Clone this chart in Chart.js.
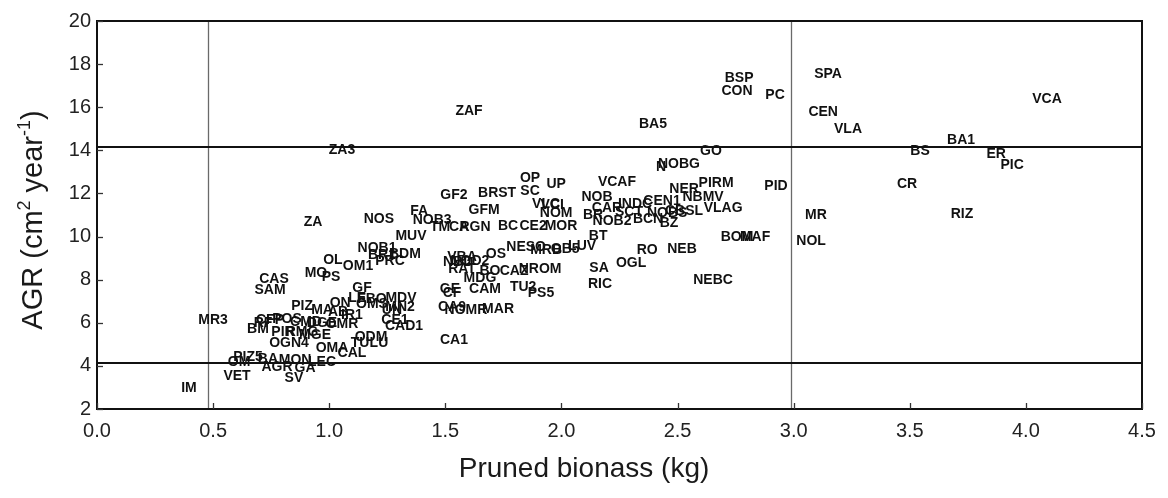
<!DOCTYPE html>
<html>
<head>
<meta charset="utf-8">
<script src="https://cdn.jsdelivr.net/npm/chart.js@4"></script>
<style>
html,body{margin:0;padding:0;background:#fff;}
canvas{display:block;}
</style>
</head>
<body>
<canvas id="c" width="1168" height="498"></canvas>
<script>
// ---- data ----
const names = ["SPA","BSP","CON","PC","VCA","CEN","ZAF","VLA","BA5","BA1",
"ZA3","GO","BS","ER","NOBG","N","PIC","PIRM","PID","CR",
"VCAF","OP","UP","SC","BRST","GF2","NER","NBMV","NOB","VLC",
"VCI","GFM","CAR","INDC","CEN1","SCT","NOM","BR","VLAG","NOBS",
"CBSL","BCN","BZ","NOB2","MR","RIZ","FA","ZA","NOS","NOB3",
"TM","CA","RGN","BC","CE2","MOR","BT","BOM","MAF","NOL",
"MUV","NESO","MRB","OB5","LUV","NOB1","BR1","BDM","PRC","OL",
"OM1","MO","PS","CAS","SAM","GF","OS","VBA","NOD2","NBD",
"RAT","BO","CAZ","NROM","MDG","CAM","TU2","PS5","GE","CF",
"CA9","NOMR","MAR","SA","RIC","OGL","RO","NEB","NEBC","MR3",
"IM","VET","SV","PIZ5","BA","OM","AGR","MON","GA","LEC",
"OMA","CAL","ODM","TU","LU","OGN4","BM","PIZ","MA","AB",
"IR1","ON","OMS","LE","FBO","MDV","MN2","UN","CE1","CAD1",
"CA1","CFP","POS","CMD","DGE","OMR","RF","PIR","RMG","MGE"];

const biomass = [3.148,2.765,2.756,2.920,4.091,3.127,1.602,3.234,2.394,3.721,
1.055,2.644,3.544,3.872,2.506,2.429,3.941,2.666,2.924,3.488,
2.239,1.865,1.977,1.865,1.723,1.537,2.528,2.610,2.153,1.934,
1.960,1.667,2.196,2.317,2.433,2.291,1.977,2.136,2.696,2.455,
2.528,2.373,2.463,2.218,3.096,3.725,1.387,0.930,1.214,1.443,
1.477,1.559,1.628,1.770,1.878,1.998,2.158,2.756,2.834,3.075,
1.352,1.848,1.934,2.016,2.089,1.206,1.227,1.326,1.262,1.016,
1.124,0.943,1.008,0.762,0.745,1.141,1.718,1.572,1.606,1.555,
1.572,1.692,1.796,1.908,1.649,1.671,1.835,1.912,1.520,1.529,
1.529,1.589,1.727,2.162,2.166,2.300,2.369,2.519,2.653,0.500,
0.396,0.603,0.848,0.650,0.736,0.612,0.775,0.853,0.896,0.969,
1.012,1.098,1.180,1.133,1.214,0.827,0.693,0.883,0.969,1.038,
1.098,1.047,1.184,1.120,1.184,1.309,1.305,1.270,1.283,1.322,
1.537,0.745,0.818,0.900,0.969,1.055,0.715,0.801,0.883,0.939];

const agr = [17.58,17.39,16.79,16.61,16.42,15.82,15.87,15.03,15.26,14.52,
14.06,14.01,14.01,13.87,13.41,13.27,13.37,12.53,12.39,12.49,
12.58,12.76,12.49,12.16,12.07,11.98,12.25,11.88,11.88,11.56,
11.51,11.28,11.37,11.56,11.70,11.19,11.14,11.05,11.37,11.14,
11.24,10.87,10.68,10.77,11.05,11.10,11.24,10.73,10.87,10.82,
10.50,10.50,10.50,10.54,10.54,10.54,10.08,10.03,10.03,9.85,
10.08,9.57,9.43,9.48,9.61,9.52,9.20,9.25,8.92,8.97,
8.69,8.37,8.18,8.09,7.58,7.67,9.25,9.11,8.92,8.88,
8.55,8.46,8.46,8.55,8.13,7.62,7.72,7.44,7.62,7.44,
6.79,6.65,6.70,8.60,7.86,8.83,9.43,9.47,8.04,6.19,
3.00,3.56,3.47,4.43,4.38,4.24,4.01,4.29,3.92,4.20,
4.85,4.62,5.36,5.08,5.12,5.12,5.77,6.84,6.61,6.56,
6.42,6.98,6.93,7.21,7.16,7.21,6.75,6.65,6.19,5.91,
5.22,6.18,6.23,6.09,6.05,6.00,6.05,5.63,5.63,5.49];

const xTickValues = [0,0.5,1,1.5,2,2.5,3,3.5,4,4.5];
const yTickValues = [2,4,6,8,10,12,14,16,18,20];
const refX = [0.48, 2.99];
const refY = [4.15, 14.15];

const points = biomass.map((b,i)=>({x:b, y:agr[i]}));

const FONT = "'Liberation Sans', Arial, sans-serif";

const decor = {
  id:'decor',
  beforeDatasetsDraw(chart){
    const {ctx, chartArea:a, scales:{x,y}} = chart;
    ctx.save();
    ctx.strokeStyle = '#6a6a6a'; ctx.lineWidth = 1.3;
    refX.forEach(v=>{ const px = Math.round(x.getPixelForValue(v))+0.5;
      ctx.beginPath(); ctx.moveTo(px,a.top); ctx.lineTo(px,a.bottom); ctx.stroke(); });
    ctx.strokeStyle = '#111'; ctx.lineWidth = 2;
    refY.forEach(v=>{ const py = Math.round(y.getPixelForValue(v));
      ctx.beginPath(); ctx.moveTo(a.left,py); ctx.lineTo(a.right,py); ctx.stroke(); });
    ctx.restore();
  },
  afterDatasetsDraw(chart){
    const {ctx, chartArea:a, scales:{x,y}} = chart;
    ctx.save();
    ctx.fillStyle = '#111';
    ctx.font = "bold 14px " + FONT;
    ctx.textAlign = 'center'; ctx.textBaseline = 'middle';
    const meta = chart.getDatasetMeta(0);
    meta.data.forEach((pt,i)=>{ ctx.fillText(names[i], pt.x, pt.y+1); });
    ctx.strokeStyle = '#111'; ctx.lineWidth = 2;
    ctx.strokeRect(a.left, a.top, a.right-a.left, a.bottom-a.top);
    ctx.lineWidth = 1.3; ctx.strokeStyle = '#333';
    xTickValues.forEach(v=>{ const px = Math.round(x.getPixelForValue(v))+0.5;
      ctx.beginPath(); ctx.moveTo(px,a.bottom); ctx.lineTo(px,a.bottom-6); ctx.stroke(); });
    yTickValues.forEach(v=>{ const py = Math.round(y.getPixelForValue(v))+0.5;
      ctx.beginPath(); ctx.moveTo(a.left,py); ctx.lineTo(a.left+6,py); ctx.stroke(); });
    ctx.fillStyle = '#1a1a1a';
    ctx.font = "28px " + FONT;
    ctx.textAlign = 'center'; ctx.textBaseline = 'alphabetic';
    ctx.fillText('Pruned bionass (kg)', 584, 477);
    const parts = [
      {t:'AGR (cm', s:29, dy:0},
      {t:'2', s:18, dy:-12},
      {t:' year', s:29, dy:0},
      {t:'-1', s:18, dy:-12},
      {t:')', s:29, dy:0}
    ];
    let total = 0;
    parts.forEach(p=>{ ctx.font = p.s+"px "+FONT; p.w = ctx.measureText(p.t).width; total += p.w; });
    ctx.translate(42, 220);
    ctx.rotate(-Math.PI/2);
    ctx.textAlign = 'left';
    let cx = -total/2;
    parts.forEach(p=>{ ctx.font = p.s+"px "+FONT; ctx.fillText(p.t, cx, p.dy); cx += p.w; });
    ctx.restore();
  }
};

new Chart(document.getElementById('c'), {
  type:'scatter',
  data:{ datasets:[{ data:points, pointRadius:0, pointHoverRadius:0, showLine:false }] },
  options:{
    responsive:false, animation:false,
    layout:{ padding:{ top:21, right:26, left:0, bottom:0 } },
    plugins:{ legend:{display:false}, tooltip:{enabled:false} },
    scales:{
      x:{
        type:'linear', min:0, max:4.5,
        afterBuildTicks:s=>{ s.ticks = xTickValues.map(v=>({value:v})); },
        ticks:{ callback:v=>Number(v).toFixed(1), font:{family:FONT, size:20}, color:'#222', padding:10, maxRotation:0, autoSkip:false },
        grid:{ display:false, drawTicks:false }, border:{ display:false },
        afterFit:s=>{ s.height = 89; }
      },
      y:{
        type:'linear', min:2, max:20,
        afterBuildTicks:s=>{ s.ticks = yTickValues.map(v=>({value:v})); },
        ticks:{ font:{family:FONT, size:20}, color:'#222', padding:6, autoSkip:false },
        grid:{ display:false, drawTicks:false }, border:{ display:false },
        afterFit:s=>{ s.width = 97; }
      }
    }
  },
  plugins:[decor]
});
</script>
</body>
</html>
